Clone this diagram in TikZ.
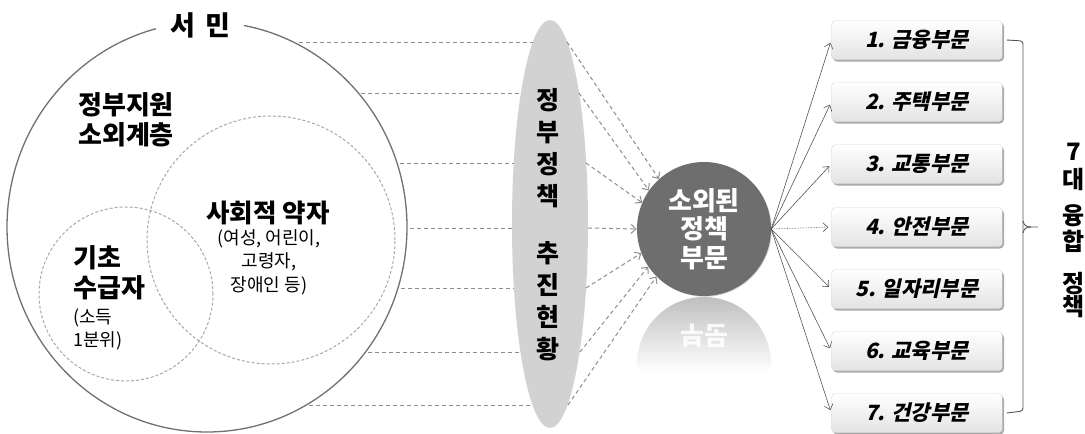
\documentclass[tikz,border=0pt]{standalone}
\usepackage{fontspec}
\setmainfont{Noto Sans CJK KR}
\newfontfamily\boxfont{Noto Sans CJK KR}[FakeSlant=0.22]
\usetikzlibrary{shapes.geometric,arrows.meta,shadows}
\definecolor{circgray}{HTML}{707070}
\definecolor{dashgray}{HTML}{A8A8A8}
\definecolor{feedgray}{HTML}{8E8E8E}
\definecolor{hubgray}{HTML}{6E6E6E}
\definecolor{govgray}{HTML}{D2D2D2}
\definecolor{darkline}{HTML}{555555}
\tikzset{
  bigcirc/.style={ellipse, draw=circgray, line width=1.3pt, minimum width=400pt, minimum height=410pt, inner sep=0pt},
  dcirc/.style={circle, draw=dashgray, line width=1pt, dash pattern=on 3pt off 2pt, inner sep=0pt},
  feed/.style={draw=feedgray, line width=1pt, dash pattern=on 4pt off 3pt},
  feedarrow/.style={feed, -{Straight Barb[length=5pt,width=9pt]}},
  outarrow/.style={draw=darkline, line width=0.6pt, -{Straight Barb[length=5pt,width=9pt]}},
  sector/.style={rounded corners=4pt, minimum width=171pt, minimum height=39pt, inner sep=0pt,
    draw=gray!30, top color=white, bottom color=gray!22,
    drop shadow={shadow xshift=1.5pt, shadow yshift=-2pt, fill=black!60, opacity=0.55},
    font=\boxfont\bfseries\fontsize{21}{24}\selectfont},
  lbl/.style={inner sep=0pt, align=center},
  vchar/.style={inner sep=0pt, font=\bfseries\fontsize{24}{26}\selectfont},
}
\begin{document}
\begin{tikzpicture}[x=1pt,y=-1pt]
\useasboundingbox (0,0) rectangle (1085,434);

% left circles
\node[bigcirc] (seomin) at (207,227) {};
\node[dcirc, minimum size=174pt] (basic) at (126,294) {};
\node[dcirc, minimum size=248pt] (weak) at (271,240) {};
\node[fill=white, inner xsep=14pt, inner ysep=2pt, font=\bfseries\fontsize{27}{30}\selectfont] (title) at (200,25) {서\hspace{4pt} 민};

\node[lbl, anchor=west, align=left, font=\bfseries\fontsize{26}{30}\selectfont] (gov1) at (78,120) {정부지원\\소외계층};
\node[lbl, font=\bfseries\fontsize{25.5}{28}\selectfont] (weakt) at (268,213) {사회적 약자};
\node[lbl, font=\fontsize{18}{23.5}\selectfont] (weaks) at (269,262) {(여성, 어린이,\\고령자,\\장애인 등)};
\node[lbl, anchor=west, align=left, font=\bfseries\fontsize{26}{30}\selectfont] (basict) at (73,273) {기초\\수급자};
\node[lbl, anchor=west, align=left, font=\fontsize{18}{23}\selectfont] (basics) at (73,329) {(소득\\1분위)};

% government ellipse
\node[ellipse, fill=govgray, minimum width=76pt, minimum height=408pt, inner sep=0pt] (gov) at (550,224) {};
\node[lbl, font=\bfseries\fontsize{25}{32}\selectfont] (govt) at (548,225) {정\\부\\정\\책\\[25pt]추\\진\\현\\황};

% hub reflection
\begin{scope}
  \clip (704,364) circle (67pt);
  \shade[top color=gray!50, bottom color=white] (630,297) rectangle (780,372);
\end{scope}
\node[lbl, text=white, opacity=0.85, yscale=-1, font=\bfseries\fontsize{26}{28}\selectfont] (mirror) at (704,336) {부문};

% hub
\node[circle, fill=hubgray, minimum size=134pt, inner sep=0pt, text=white, align=center,
      font=\bfseries\fontsize{26}{28.5}\selectfont,
      drop shadow={shadow xshift=0.8pt, shadow yshift=-0.8pt, fill=black!40, opacity=0.4}] (hub) at (704,229) {소외된\\정책\\부문};

% feeder lines
\foreach \i/\y/\lx/\ex/\rx/\a in {1/42/299/533/567/132, 2/93/361/521/579/145, 3/163/400/514/586/157, 4/228/410/512/588/180, 5/288/401/514/586/201, 6/352/368/520/580/214, 7/405/309/532/568/225}{
  \coordinate (l\i) at (\lx,\y);
  \coordinate (e\i) at (\ex,\y);
  \coordinate (r\i) at (\rx,\y);
  \draw[feed] (l\i) -- (e\i);
  \draw[feedarrow] (r\i) -- (hub.\a);
}

% sector boxes
\node[sector] (b1) at (917,40) {1. 금융부문};
\node[sector] (b2) at (917,102) {2. 주택부문};
\node[sector] (b3) at (917,164) {3. 교통부문};
\node[sector] (b4) at (917,227) {4. 안전부문};
\node[sector] (b5) at (917,289) {5. 일자리부문};
\node[sector] (b6) at (917,351) {6. 교육부문};
\node[sector] (b7) at (917,413) {7. 건강부문};

\foreach \b in {b1,b2,b3,b5,b6,b7}{
  \draw[outarrow, shorten >=3pt] (hub.east) -- (\b.west);
}
\draw[outarrow, densely dotted, shorten >=3pt] (hub.east) -- (b4.west);

% bracket
\draw[darkline, line width=0.9pt, rounded corners=3pt] ([xshift=4pt]b1.east) -- (1023,41) -- (1023,411) -- ([xshift=4pt]b7.east);
\coordinate (tick) at (1038,227);
\draw[darkline, line width=0.9pt] (1023,221) .. controls (1024,226) and (1027,227) .. (1031,227) -- (tick);
\draw[darkline, line width=0.9pt] (1023,233) .. controls (1024,228) and (1027,227) .. (1031,227);

% right vertical label
\node[vchar] (v1) at (1074,152) {7};
\node[vchar] (v2) at (1074,179) {대};
\node[vchar] (v3) at (1074,216) {융};
\node[vchar] (v4) at (1074,241) {합};
\node[vchar] (v5) at (1074,284) {정};
\node[vchar] (v6) at (1074,307) {책};
\end{tikzpicture}
\end{document}
